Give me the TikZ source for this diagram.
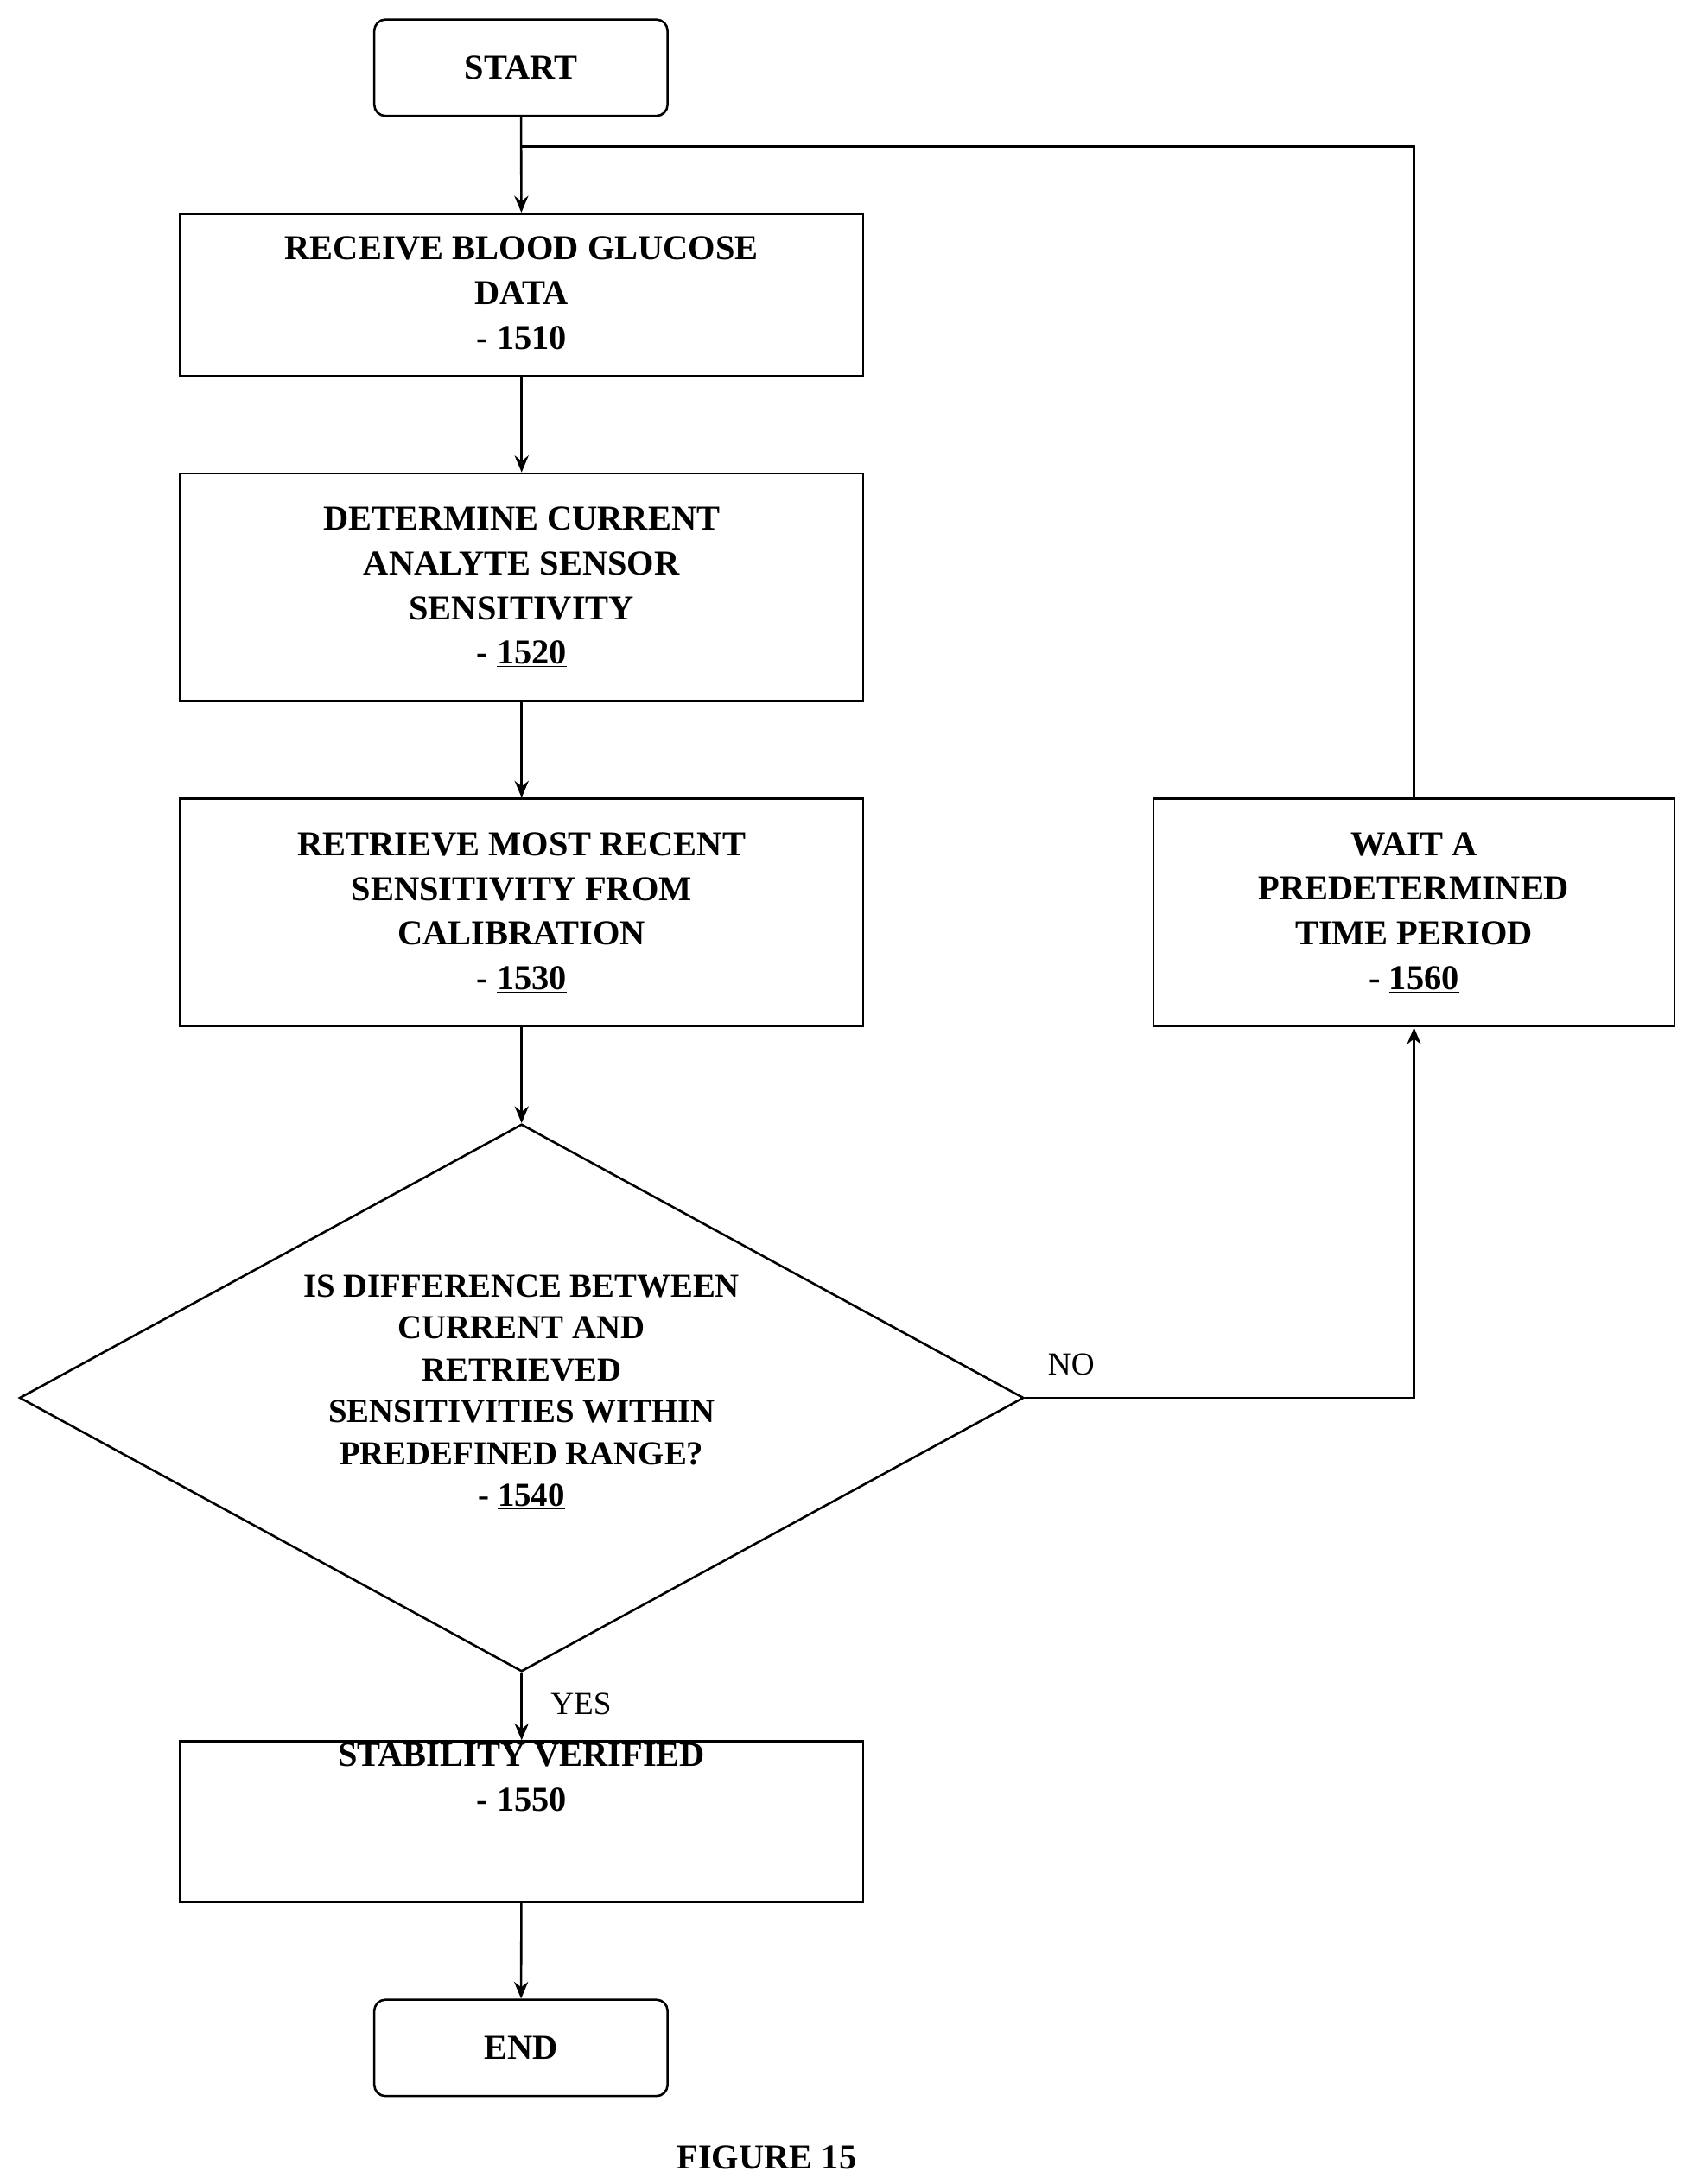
\documentclass[tikz,border=0pt]{standalone}
\usepackage{fontspec}
\setmainfont{Liberation Serif}
\usetikzlibrary{shapes.geometric,arrows.meta}
\begin{document}
\begin{tikzpicture}[x=1pt,y=-1pt,
  box/.style={draw,line width=1.6pt,minimum width=489pt,align=center,font=\fontsize{25}{32}\selectfont\bfseries,inner sep=0pt},
  term/.style={draw,line width=1.6pt,rounded corners=8pt,minimum width=210pt,minimum height=69pt,font=\fontsize{25}{32}\selectfont\bfseries},
  arr/.style={line width=1.6pt,-{Stealth[length=12pt,width=10pt]}},
  lbl/.style={font=\fontsize{23}{28}\selectfont}]
\useasboundingbox (0,0) rectangle (1210,1564);
\node[term] (start) at (373,48.5) {START};
\node[box,minimum height=116pt] (b1) at (373.5,211) {RECEIVE BLOOD GLUCOSE\\DATA\\- \underline{1510}};
\node[box,minimum height=163pt] (b2) at (373.5,420.5) {DETERMINE CURRENT\\ANALYTE SENSOR\\SENSITIVITY\\- \underline{1520}};
\node[box,minimum height=163pt] (b3) at (373.5,653.5) {RETRIEVE MOST RECENT\\SENSITIVITY FROM\\CALIBRATION\\- \underline{1530}};
\node[draw,line width=1.6pt,diamond,minimum width=719pt,minimum height=392pt,inner sep=0pt,aspect=1.834,align=center,font=\fontsize{24}{30}\selectfont\bfseries] (d) at (373.5,1001) {};
\node[align=center,font=\fontsize{24}{30}\selectfont\bfseries] (dt) at (373.5,997) {IS DIFFERENCE BETWEEN\\CURRENT AND\\RETRIEVED\\SENSITIVITIES WITHIN\\PREDEFINED RANGE?\\- \underline{1540}};
\node[box,minimum height=115pt] (b5) at (373.5,1304.5) {STABILITY VERIFIED\\- \underline{1550}\\[32pt]};
\node[term] (end) at (373,1466.5) {END};
\node[box,minimum width=373pt,minimum height=163pt] (b6) at (1012.5,653.5) {WAIT A\\PREDETERMINED\\TIME PERIOD\\- \underline{1560}};
\coordinate (j) at (373,105);
\draw[arr] (start) -- (b1);
\draw[arr] (b1) -- (b2);
\draw[arr] (b2) -- (b3);
\draw[arr] (b3) -- (d.north);
\draw[arr] (d.south) -- (b5);
\draw[arr] (b5) -- (end);
\draw[arr] (d.east) -| (b6.south);
\draw[line width=1.6pt] (b6.north) |- (j);
\node[lbl] (no) at (767,977) {NO};
\node[lbl] (yes) at (416,1220) {YES};
\node[font=\fontsize{25}{30}\selectfont\bfseries] (fig) at (549,1545) {FIGURE 15};
\end{tikzpicture}
\end{document}
